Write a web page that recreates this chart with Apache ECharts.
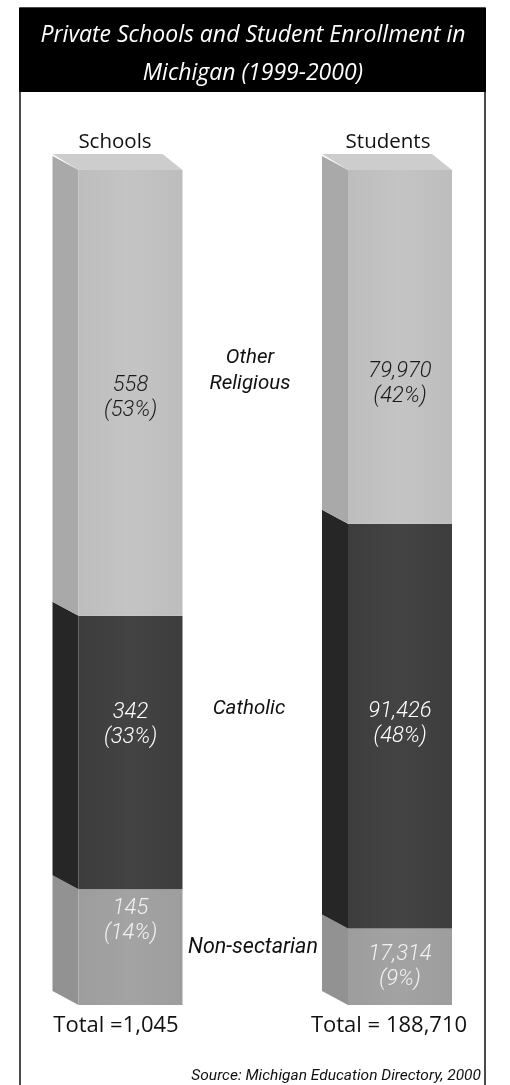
<!DOCTYPE html>
<html>
<head>
<meta charset="utf-8">
<style>html,body{margin:0;padding:0;background:#fff;}#chart{width:510px;height:1085px;}</style>
<script src="https://cdn.jsdelivr.net/npm/echarts@6/dist/echarts.min.js"></script>
</head>
<body>
<div id="chart"></div>
<script>
// ---- data ----
const categories = ['Schools', 'Students'];
const segmentNames = ['Non-sectarian', 'Catholic', 'Other Religious']; // bottom to top
const schoolsCounts = [145, 342, 558];
const studentsCounts = [17314, 91426, 79970];
const schoolsPct = ['14%', '33%', '53%'];
const studentsPct = ['9%', '48%', '42%'];
const totalLabels = ['1,045', '188,710'];
const titleLines = ['Private Schools and Student Enrollment in', 'Michigan (1999-2000)'];
const sourceText = 'Source: Michigan Education Directory, 2000';

// ---- styling ----
const segStyle = [
  { front: ['#9d9d9d', '#a3a3a3'], side: '#929292', label: '#f2f2f2' },
  { front: ['#3d3d3d', '#434343'], side: '#262626', label: '#ffffff' },
  { front: ['#bdbdbd', '#c4c4c4'], side: '#a9a9a9', top: '#cdcdcd', label: '#1a1a1a' }
];
// label vertical nudges (px) per bar / segment
const labelNudge = [[-26, -28, 5], [0, -2, 37]];
const HALF = 52, DX = 26, DY = 14;

const countsByBar = [schoolsCounts, studentsCounts];
const pctByBar = [schoolsPct, studentsPct];

function fmt(n) { return n.toLocaleString('en-US'); }

const seriesList = segmentNames.map(function (name, si) {
  const data = countsByBar.map(function (counts, bi) {
    const sum = counts.reduce(function (a, b) { return a + b; }, 0);
    let lo = 0;
    for (let k = 0; k < si; k++) lo += counts[k];
    return [bi, lo / sum, (lo + counts[si]) / sum, si];
  });
  return {
    type: 'custom',
    name: name,
    clip: false,
    encode: { x: 0, y: [1, 2] },
    data: data,
    renderItem: function (params, api) {
      const bi = api.value(0), lo = api.value(1), hi = api.value(2), s = api.value(3);
      const cx = api.coord([bi, 0])[0];
      const yb = api.coord([bi, lo])[1];
      const yt = api.coord([bi, hi])[1];
      const L = cx - HALF, R = cx + HALF;
      const st = segStyle[s];
      const children = [
        { type: 'polygon', shape: { points: [[L, yt], [L - DX, yt - DY], [L - DX, yb - DY], [L, yb]] },
          style: { fill: st.side } },
        { type: 'rect', shape: { x: L, y: yt, width: R - L, height: yb - yt },
          style: { fill: new echarts.graphic.LinearGradient(0, 0, 1, 0, [
            { offset: 0, color: st.front[0] }, { offset: 0.5, color: st.front[1] }, { offset: 1, color: st.front[0] }]) } }
      ];
      if (st.top) {
        children.push({ type: 'polygon',
          shape: { points: [[L, yt], [L - DX, yt - DY - 2], [R - 20, yt - DY - 2], [R, yt]] },
          style: { fill: st.top } });
      }
      const counts = countsByBar[bi];
      children.push({ type: 'text', z2: 10,
        style: {
          text: fmt(counts[s]) + '\n(' + pctByBar[bi][s] + ')',
          x: cx, y: (yt + yb) / 2 + labelNudge[bi][s],
          align: 'center', verticalAlign: 'middle',
          fontFamily: 'Roboto', fontStyle: 'italic', fontWeight: 300, fontSize: 22, lineHeight: 25,
          fill: st.label
        } });
      return { type: 'group', children: children };
    }
  };
});

const chart = echarts.init(document.getElementById('chart'));
chart.setOption({
  animation: false,
  grid: { left: 130.5, width: 269.5, top: 170, bottom: 80 },
  xAxis: { type: 'category', data: categories, boundaryGap: false, show: false },
  yAxis: { type: 'value', min: 0, max: 1, show: false },
  series: seriesList,
  graphic: [
    { type: 'rect', shape: { x: 20, y: 8, width: 465, height: 1090 },
      style: { fill: 'none', stroke: '#111', lineWidth: 1.5 } },
    { type: 'rect', shape: { x: 19, y: 8, width: 467, height: 84 }, style: { fill: '#000' } },
    { type: 'text', style: { text: titleLines.join('\n'), x: 253, y: 54, align: 'center', verticalAlign: 'middle',
        fontFamily: 'Open Sans', fontStyle: 'italic', fontSize: 23, lineHeight: 38, fill: '#fff' } },
    { type: 'text', style: { text: categories[0], x: 115, y: 142, align: 'center', verticalAlign: 'middle',
        fontFamily: 'Open Sans', fontSize: 20.5, fill: '#111' } },
    { type: 'text', style: { text: categories[1], x: 388, y: 142, align: 'center', verticalAlign: 'middle',
        fontFamily: 'Open Sans', fontSize: 20.5, fill: '#111' } },
    { type: 'text', style: { text: 'Other\nReligious', x: 250, y: 371, align: 'center', verticalAlign: 'middle',
        fontFamily: 'Roboto', fontStyle: 'italic', fontSize: 20.5, lineHeight: 26, fill: '#111' } },
    { type: 'text', style: { text: segmentNames[1], x: 249, y: 709, align: 'center', verticalAlign: 'middle',
        fontFamily: 'Roboto', fontStyle: 'italic', fontSize: 20.5, fill: '#111' } },
    { type: 'text', style: { text: segmentNames[0], x: 253, y: 948, align: 'center', verticalAlign: 'middle',
        fontFamily: 'Roboto', fontStyle: 'italic', fontSize: 21.5, fill: '#111' } },
    { type: 'text', style: { text: 'Total =' + totalLabels[0], x: 116, y: 1026, align: 'center', verticalAlign: 'middle',
        fontFamily: 'Open Sans', fontSize: 22, fill: '#111' } },
    { type: 'text', style: { text: 'Total = ' + totalLabels[1], x: 389, y: 1026, align: 'center', verticalAlign: 'middle',
        fontFamily: 'Open Sans', fontSize: 22, fill: '#111' } },
    { type: 'text', style: { text: sourceText, x: 481, y: 1076, align: 'right', verticalAlign: 'middle',
        fontFamily: 'Roboto', fontStyle: 'italic', fontSize: 15.5, fill: '#111' } }
  ]
});
</script>
</body>
</html>
